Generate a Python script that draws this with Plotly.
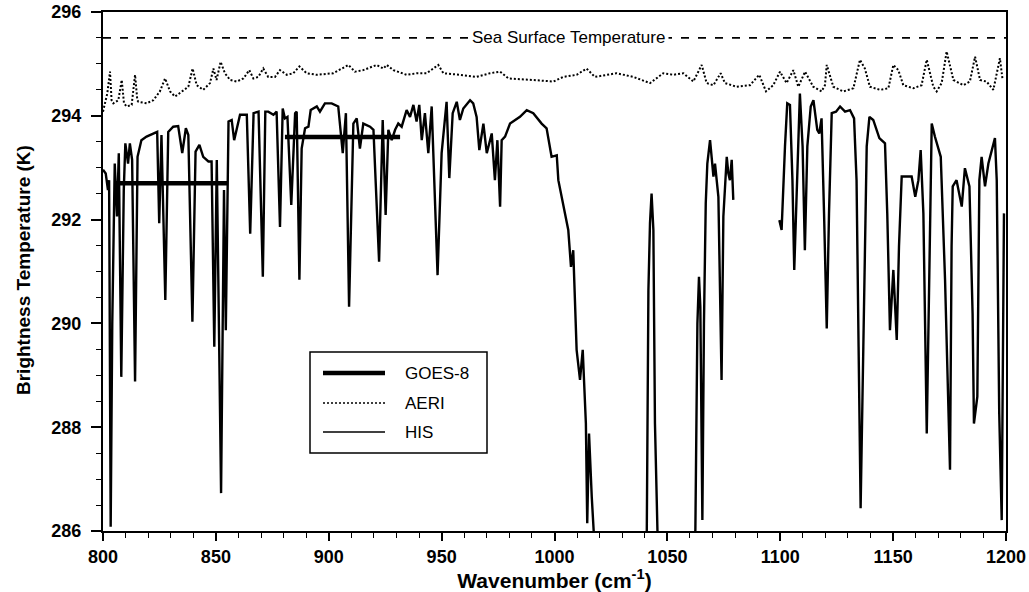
import plotly.graph_objects as go

# ---------------- data ----------------
# HIS spectrum, segment 1 (800-1080 cm-1)
his1_wn = [800.0, 801.2, 802.2, 802.7, 803.4, 804.1, 805.2, 806.2, 807.0, 808.1, 809.2, 809.9, 811.1, 811.9,
           812.9, 814.2, 815.3, 817.0, 819.3, 823.0, 824.0, 824.9, 825.9, 827.6, 828.9, 831.1, 833.3, 835.1,
           836.7, 837.8, 839.6, 841.0, 842.7, 844.4, 846.7, 848.1, 849.3, 850.4, 852.3, 853.6, 854.4, 855.6,
           857.0, 858.1, 860.7, 863.7, 865.2, 866.7, 868.9, 870.8, 871.9, 873.2, 875.5, 876.9, 878.4, 879.6,
           880.6, 881.7, 883.4, 885.1, 885.8, 887.0, 888.0, 889.5, 891.0, 892.0, 894.7, 896.1, 898.3, 901.3,
           904.2, 906.2, 907.6, 909.0, 910.9, 912.4, 913.8, 915.3, 918.3, 919.8, 922.3, 923.9, 925.2, 926.4,
           927.9, 929.4, 930.8, 932.3, 934.5, 936.0, 937.5, 938.9, 940.1, 941.2, 942.6, 944.1, 945.6, 948.2,
           950.0, 952.2, 953.4, 954.9, 956.7, 958.1, 959.6, 962.6, 964.0, 965.5, 966.7, 968.5, 970.0, 972.2,
           973.6, 974.7, 975.9, 976.6, 978.1, 980.3, 984.7, 987.7, 990.6, 994.3, 996.5, 998.7, 1001.0, 1001.7,
           1003.2, 1005.4, 1006.1, 1007.3, 1008.3, 1009.8, 1011.3, 1012.5, 1013.9, 1014.5, 1015.3, 1016.5,
           1017.2, 1018.0, 1040.8, 1041.3, 1041.6, 1042.3, 1043.0, 1043.8, 1044.5, 1045.6, 1046.1, 1061.5,
           1062.4, 1063.3, 1064.0, 1064.6, 1065.5, 1066.2, 1067.0, 1067.7, 1068.9, 1069.6, 1070.4, 1071.1,
           1071.8, 1072.6, 1074.0, 1074.8, 1076.3, 1077.0, 1077.7, 1078.5, 1079.2]
his1_bt = [292.96, 292.89, 292.57, 292.76, 286.08, 290.0, 293.08, 292.06, 293.28, 288.97, 292.57, 293.47, 293.08,
           293.47, 293.15, 288.88, 293.21, 293.53, 293.60, 293.66, 293.69, 291.93, 293.63, 290.45, 293.69, 293.79,
           293.80, 293.28, 293.76, 293.63, 290.03, 293.31, 293.44, 293.21, 293.12, 293.12, 289.55, 293.15, 286.73,
           292.57, 289.87, 293.89, 293.92, 293.53, 294.02, 294.02, 291.73, 294.05, 294.08, 290.90, 294.08, 294.08,
           294.02, 294.08, 291.86, 294.14, 293.95, 293.98, 292.28, 294.05, 294.08, 290.84, 293.37, 293.76, 293.79,
           294.11, 294.18, 294.08, 294.24, 294.24, 294.18, 293.28, 294.05, 290.32, 293.85, 293.95, 293.37, 293.85,
           293.79, 293.73, 291.19, 293.92, 292.09, 293.73, 293.53, 293.73, 293.85, 293.79, 294.11, 293.98, 294.21,
           293.89, 294.21, 293.53, 294.05, 293.28, 294.18, 290.93, 293.28, 294.27, 292.80, 294.05, 294.27, 293.92,
           294.14, 294.30, 294.24, 293.98, 293.34, 293.85, 293.28, 293.66, 292.76, 293.53, 292.25, 293.53, 293.60,
           293.85, 293.98, 294.11, 294.05, 293.85, 293.76, 293.21, 293.24, 292.76, 292.44, 291.93, 291.80, 291.09,
           291.41, 289.49, 288.91, 289.49, 288.07, 286.15, 287.88, 286.66, 286.02, 285.5, 285.5, 288.07, 290.64,
           291.93, 292.50, 291.80, 288.07, 286.02, 285.5, 285.5, 286.02, 290.0, 290.90, 290.32, 286.21, 290.0,
           292.31, 293.08, 293.53, 293.21, 292.83, 293.08, 292.83, 292.44, 288.91, 292.06, 293.21, 292.89, 292.76,
           293.15, 292.38]

# HIS spectrum, segment 2 (1100-1200 cm-1)
his2_wn = [1099.6, 1100.6, 1102.1, 1103.1, 1104.3, 1105.4, 1106.2, 1107.6, 1108.7, 1109.9, 1110.9, 1112.0,
           1113.5, 1114.7, 1116.4, 1117.3, 1118.3, 1119.4, 1120.6, 1121.6, 1122.8, 1124.7, 1126.5, 1128.7,
           1130.9, 1132.7, 1133.8, 1134.7, 1135.6, 1136.8, 1138.3, 1139.5, 1141.2, 1143.9, 1146.4, 1147.4,
           1148.6, 1150.1, 1151.6, 1152.6, 1153.8, 1156.0, 1158.2, 1159.8, 1161.2, 1162.2, 1163.4, 1164.9,
           1165.9, 1167.1, 1168.5, 1171.1, 1173.0, 1175.2, 1175.9, 1176.4, 1178.1, 1180.4, 1181.8, 1183.8,
           1185.2, 1185.8, 1187.3, 1188.2, 1189.2, 1190.7, 1192.2, 1195.1, 1195.9, 1197.0, 1198.1, 1199.1]
his2_bt = [291.99, 291.80, 293.41, 294.24, 294.21, 292.76, 291.03, 292.76, 294.43, 293.41, 291.41, 293.41,
           294.18, 294.30, 293.73, 293.66, 293.95, 292.12, 289.90, 292.12, 294.05, 294.08, 294.18, 294.08,
           294.11, 293.95, 292.76, 289.55, 286.44, 289.55, 293.41, 293.98, 293.92, 293.57, 293.47, 292.12,
           289.87, 291.03, 289.68, 291.48, 292.83, 292.83, 292.83, 292.44, 292.76, 293.34, 292.12, 287.88,
           290.84, 293.85, 293.60, 293.21, 290.84, 287.18, 291.48, 292.64, 292.76, 292.25, 292.99, 292.64,
           290.19, 288.07, 288.59, 292.76, 293.21, 292.64, 293.08, 293.57, 292.76, 288.27, 286.21, 292.12]

# AERI spectrum
aeri_wn = [800.0, 801.9, 803.1, 803.8, 804.6, 806.8, 808.3, 809.3, 810.5, 812.7, 814.2, 815.2, 815.7, 819.3,
           822.3, 825.2, 827.5, 829.7, 831.9, 834.8, 837.8, 839.7, 841.5, 844.4, 847.4, 848.9, 850.3, 852.1,
           854.0, 856.3, 859.2, 862.2, 864.8, 866.6, 868.8, 871.0, 873.2, 876.2, 878.4, 881.4, 884.3, 887.0,
           890.2, 894.6, 902.0, 908.7, 911.6, 915.3, 921.2, 924.2, 925.7, 928.6, 934.5, 939.0, 943.4, 948.5,
           950.8, 958.1, 965.5, 971.4, 975.9, 979.6, 984.7, 990.6, 999.5, 1003.9, 1009.8, 1014.2, 1017.9,
           1023.1, 1027.5, 1034.9, 1042.3, 1048.2, 1052.6, 1057.1, 1061.5, 1065.2, 1067.4, 1070.4, 1073.6,
           1075.5, 1080.7, 1086.6, 1090.7, 1093.7, 1096.9, 1099.9, 1102.8, 1105.8, 1108.0, 1111.0, 1114.6,
           1118.3, 1119.8, 1120.6, 1123.5, 1127.9, 1132.4, 1135.3, 1137.5, 1139.7, 1144.2, 1147.9, 1150.1,
           1152.3, 1154.5, 1159.0, 1162.6, 1164.9, 1167.8, 1169.3, 1171.5, 1173.7, 1176.7, 1181.1, 1184.0,
           1186.3, 1188.5, 1191.4, 1194.4, 1197.3, 1198.5]
aeri_bt = [294.08, 294.43, 294.85, 294.30, 294.24, 294.30, 294.69, 294.24, 294.18, 294.21, 294.79, 294.30,
           294.27, 294.24, 294.30, 294.47, 294.72, 294.47, 294.37, 294.47, 294.56, 294.91, 294.59, 294.50,
           294.63, 294.91, 294.69, 295.04, 294.82, 294.69, 294.66, 294.72, 294.88, 294.72, 294.75, 294.91,
           294.75, 294.75, 294.88, 294.79, 294.82, 294.95, 294.82, 294.79, 294.82, 294.98, 294.85, 294.88,
           294.98, 294.91, 294.98, 294.88, 294.79, 294.82, 294.82, 294.98, 294.82, 294.79, 294.75, 294.82,
           294.85, 294.72, 294.70, 294.69, 294.66, 294.75, 294.79, 294.91, 294.75, 294.79, 294.82, 294.75,
           294.63, 294.82, 294.79, 294.82, 294.66, 294.98, 294.63, 294.59, 294.82, 294.63, 294.56, 294.59,
           294.79, 294.47, 294.59, 294.85, 294.63, 294.88, 294.56, 294.85, 294.56, 294.47, 294.59, 294.98,
           294.56, 294.47, 294.53, 295.08, 294.91, 294.56, 294.50, 294.53, 294.98, 294.88, 294.59, 294.53,
           294.59, 295.08, 294.56, 294.47, 294.63, 295.24, 294.69, 294.59, 294.66, 295.14, 294.69, 294.66,
           294.50, 295.11, 294.69]

# GOES-8 channel averages
goes_wn_start = [805.3, 880.6]
goes_wn_end = [855.0, 931.6]
goes_bt = [292.7, 293.59]

# Sea surface temperature
sst_wn = [800, 1200]
sst_value = 295.5
sst_label = "Sea Surface Temperature"
sst_label_wn = 1006

legend_names = ["GOES-8", "AERI", "HIS"]
x_title = "<b>Wavenumber (cm<sup>-1</sup>)</b>"
y_title = "<b>Brightness Temperature (K)</b>"

# ---------------- figure ----------------
W, H = 1029, 592
L, R, T, B = 103, 1006, 12, 531    # plot area in page pixels

def px_x(p):
    return (p - L) / (R - L)

def px_y(p):
    return (B - p) / (B - T)

FONT = "Liberation Sans, Arial, sans-serif"

fig = go.Figure()

fig.add_trace(go.Scatter(x=sst_wn, y=[sst_value] * len(sst_wn), mode="lines",
                         line=dict(color="black", width=1.8, dash="8px,9px"),
                         showlegend=False, name="SST"))

fig.add_trace(go.Scatter(x=aeri_wn, y=aeri_bt, mode="lines", name="AERI",
                         line=dict(color="black", width=2.0, dash="2px,2px"), showlegend=False))

his_wn = his1_wn + [None] + his2_wn
his_bt = his1_bt + [None] + his2_bt
fig.add_trace(go.Scatter(x=his_wn, y=his_bt, mode="lines", name="HIS",
                         line=dict(color="black", width=2.4), showlegend=False, connectgaps=False))

gx, gy = [], []
for s, e, v in zip(goes_wn_start, goes_wn_end, goes_bt):
    gx += [s, e, None]
    gy += [v, v, None]
fig.add_trace(go.Scatter(x=gx, y=gy, mode="lines", name="GOES-8",
                         line=dict(color="black", width=4.5), showlegend=False))

# SST label
fig.add_annotation(x=sst_label_wn, y=sst_value, text=sst_label, showarrow=False,
                   bgcolor="white", borderpad=3,
                   font=dict(family=FONT, size=17, color="black"))

# manual legend (box + samples)
fig.add_shape(type="rect", xref="paper", yref="paper",
              x0=px_x(310), x1=px_x(487), y0=px_y(453), y1=px_y(352),
              line=dict(color="black", width=1.5), fillcolor="white")
leg_styles = [dict(width=4.5), dict(width=1.5, dash="2px,2px"), dict(width=1.5)]
leg_y = [373, 403, 432]
for name, st, yy in zip(legend_names, leg_styles, leg_y):
    fig.add_shape(type="line", xref="paper", yref="paper",
                  x0=px_x(323), x1=px_x(385), y0=px_y(yy), y1=px_y(yy),
                  line=dict(color="black", **st))
    fig.add_annotation(xref="paper", yref="paper", x=px_x(403), y=px_y(yy), text=name,
                       showarrow=False, xanchor="left", yanchor="middle",
                       font=dict(family=FONT, size=17, color="black"))

# y-axis title placed precisely
fig.add_annotation(xref="paper", yref="paper", x=px_x(23), y=px_y(270), text=y_title,
                   showarrow=False, textangle=-90, xanchor="center", yanchor="middle",
                   font=dict(family=FONT, size=19, color="black"))

axis_common = dict(showgrid=False, zeroline=False, showline=True, linecolor="black", linewidth=2,
                   mirror=True, ticks="outside", tickcolor="black", tickwidth=1.5, automargin=False,
                   tickfont=dict(family=FONT, size=18, color="black", weight="bold"))

fig.update_xaxes(range=[800, 1200], tick0=800, dtick=50, ticklen=8,
                 minor=dict(dtick=10, ticklen=5, ticks="outside", tickcolor="black", tickwidth=1.2),
                 title=dict(text=x_title, standoff=2,
                            font=dict(family=FONT, size=21, color="black")),
                 **axis_common)
fig.update_yaxes(range=[286, 296], tick0=286, dtick=2, ticklen=10, ticklabelstandoff=6,
                 minor=dict(dtick=0.5, ticklen=5, ticks="outside", tickcolor="black", tickwidth=1.2),
                 **axis_common)

fig.update_layout(width=W, height=H,
                  margin=dict(l=L, r=W - R, t=T, b=H - B),
                  paper_bgcolor="white", plot_bgcolor="white", showlegend=False,
                  font=dict(family=FONT, color="black"))

fig.write_html("out.html", config={"displayModeBar": False},
               post_script="document.body.style.margin='0';document.body.style.overflow='hidden';")
